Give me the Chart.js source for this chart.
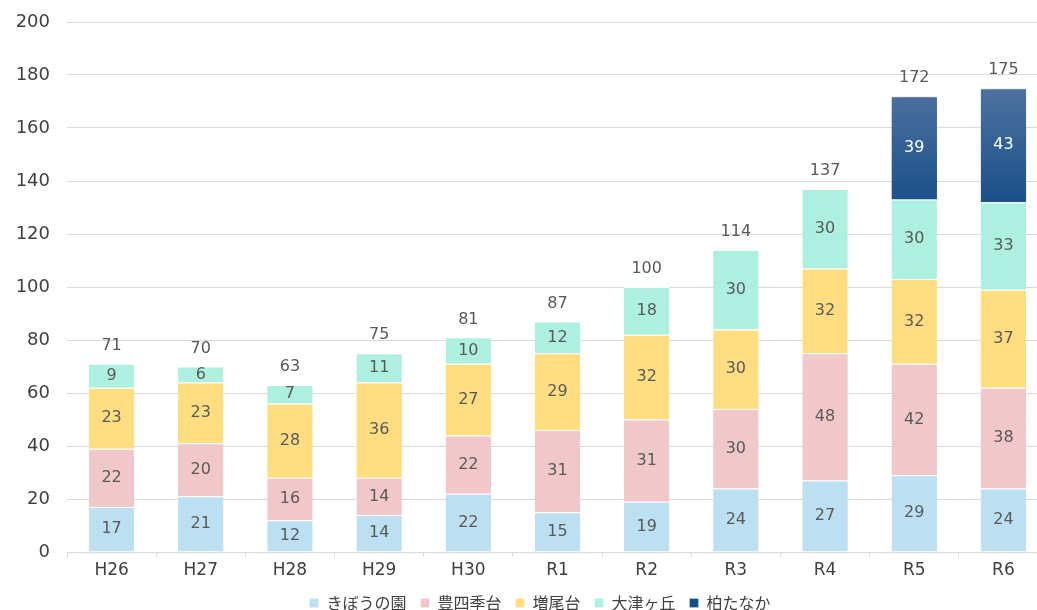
<!DOCTYPE html>
<html lang="ja">
<head>
<meta charset="UTF-8">
<title>入所者数の推移</title>
<script src="https://cdn.jsdelivr.net/npm/chart.js"></script>
<style>
  html, body { margin: 0; padding: 0; background: #fff; overflow: hidden; }
  #wrap { width: 1050px; height: 625px; margin-top: -4px; }
</style>
</head>
<body>
<div id="wrap"><canvas id="grafica"></canvas></div>
<script>
// 年度
const labels = ['H26', 'H27', 'H28', 'H29', 'H30', 'R1', 'R2', 'R3', 'R4', 'R5', 'R6'];
// 施設ごとの人数
const kibou   = [17, 21, 12, 14, 22, 15, 19, 24, 27, 29, 24];
const toyoshi = [22, 20, 16, 14, 22, 31, 31, 30, 48, 42, 38];
const masuo   = [23, 23, 28, 36, 27, 29, 32, 30, 32, 32, 37];
const ootsu   = [9, 6, 7, 11, 10, 12, 18, 30, 30, 30, 33];
const tanaka  = [null, null, null, null, null, null, null, null, null, 39, 43];
const yTicks  = [0, 20, 40, 60, 80, 100, 120, 140, 160, 180, 200];

const NUM_FONT = '"DejaVu Sans", sans-serif';
const JP_FONT = '"Noto Sans CJK JP", sans-serif';

// 柏たなか のグラデーション
function tanakaFill(context) {
  const chart = context.chart;
  if (!chart.chartArea) return '#1f5289';
  const y = chart.scales.y;
  const g = chart.ctx.createLinearGradient(0, y.getPixelForValue(175), 0, y.getPixelForValue(130));
  g.addColorStop(0, '#4d72a0');
  g.addColorStop(1, '#184f88');
  return g;
}

// 数値ラベルと合計
const labelPlugin = {
  id: 'labelPlugin',
  afterDatasetsDraw(chart) {
    const ctx = chart.ctx;
    ctx.save();
    ctx.textAlign = 'center';
    ctx.textBaseline = 'middle';
    ctx.font = '16px ' + NUM_FONT;
    const tops = [];
    chart.data.datasets.forEach((ds, i) => {
      const meta = chart.getDatasetMeta(i);
      meta.data.forEach((bar, j) => {
        const v = ds.data[j];
        if (v === null || v === undefined) return;
        ctx.fillStyle = i === 4 ? '#ffffff' : '#595959';
        ctx.fillText(v, bar.x, (bar.y + bar.base) / 2);
        if (tops[j] === undefined || bar.y < tops[j].y) tops[j] = { x: bar.x, y: bar.y };
      });
    });
    ctx.fillStyle = '#595959';
    labels.forEach((l, j) => {
      let total = 0;
      chart.data.datasets.forEach(ds => { total += ds.data[j] || 0; });
      ctx.fillText(total, tops[j].x, tops[j].y - 18);
    });
    ctx.restore();
  }
};

// 柏たなかの影
const shadowPlugin = {
  id: 'shadowPlugin',
  beforeDatasetDraw(chart, args) {
    if (args.index !== 4) return;
    const ctx = chart.ctx;
    ctx.save();
    ctx.shadowColor = 'rgba(0,0,0,0.35)';
    ctx.shadowBlur = 6;
    ctx.shadowOffsetX = 2;
    ctx.shadowOffsetY = 2;
  },
  afterDatasetDraw(chart, args) {
    if (args.index !== 4) return;
    chart.ctx.restore();
  }
};

// 凡例を少し右へ
const legendShift = {
  id: 'legendShift',
  afterLayout(chart) {
    chart.legend.left += 16;
    chart.legend.right += 16;
  }
};

const ctx = document.getElementById('grafica').getContext('2d');
new Chart(ctx, {
  type: 'bar',
  data: {
    labels: labels,
    datasets: [
      { label: 'きぼうの園', data: kibou, backgroundColor: '#bcdff1' },
      { label: '豊四季台', data: toyoshi, backgroundColor: '#f0c8ca' },
      { label: '増尾台', data: masuo, backgroundColor: '#ffdd80' },
      { label: '大津ヶ丘', data: ootsu, backgroundColor: '#aef0df' },
      { label: '柏たなか', data: tanaka, backgroundColor: tanakaFill }
    ]
  },
  options: {
    responsive: true,
    maintainAspectRatio: false,
    animation: false,
    layout: { padding: { top: 0, right: 2, left: 0, bottom: 0 } },
    datasets: {
      bar: {
        barPercentage: 0.51,
        categoryPercentage: 1,
        borderColor: '#ffffff',
        borderWidth: { top: 1, bottom: 0, left: 0, right: 0 },
        borderSkipped: false
      }
    },
    scales: {
      x: {
        stacked: true,
        afterFit: axis => { axis.height = 29; },
        border: { display: true, color: '#d9d9d9' },
        grid: { offset: true, drawOnChartArea: false, drawTicks: true, tickLength: 5, color: '#d9d9d9' },
        ticks: { color: '#404040', font: { family: NUM_FONT, size: 17 }, padding: 3 }
      },
      y: {
        stacked: true,
        min: 0,
        max: 200,
        afterBuildTicks: axis => { axis.ticks = yTicks.map(v => ({ value: v })); },
        afterFit: axis => { axis.width = 67; },
        border: { display: false },
        grid: { color: '#d9d9d9', drawTicks: false },
        ticks: { color: '#404040', font: { family: NUM_FONT, size: 18, lineHeight: 1 }, padding: 17 }
      }
    },
    plugins: {
      legend: {
        position: 'bottom',
        labels: {
          boxWidth: 9,
          boxHeight: 9,
          padding: 14,
          color: '#404040',
          font: { family: JP_FONT, size: 16 }
        }
      },
      tooltip: { enabled: false }
    }
  },
  plugins: [shadowPlugin, labelPlugin, legendShift]
});
</script>
</body>
</html>
